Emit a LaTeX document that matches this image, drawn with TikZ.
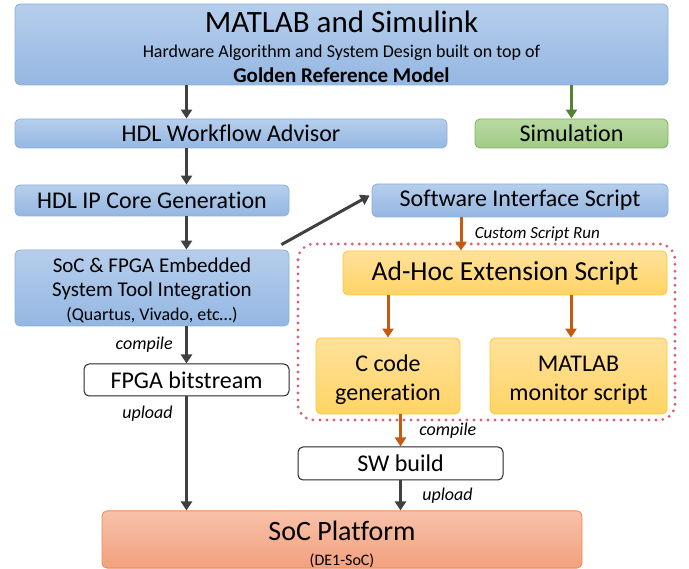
\documentclass[tikz,border=0pt]{standalone}
\usepackage{fontspec}
\setmainfont{Carlito}[Ligatures=NoCommon]
\usetikzlibrary{arrows.meta}
\definecolor{bluetop}{HTML}{B6CEEC}
\definecolor{bluebot}{HTML}{94B7E2}
\definecolor{blueline}{HTML}{8EAFDB}
\definecolor{greentop}{HTML}{B9DAA3}
\definecolor{greenbot}{HTML}{A0CB84}
\definecolor{greenline}{HTML}{7DB35A}
\definecolor{yeltop}{HTML}{FFE19A}
\definecolor{yelbot}{HTML}{FFD465}
\definecolor{yelline}{HTML}{FFC532}
\definecolor{pltop}{HTML}{F7C1A9}
\definecolor{plbot}{HTML}{F3A17E}
\definecolor{plline}{HTML}{EE8A50}
\definecolor{darkarrow}{HTML}{404040}
\definecolor{greenarrow}{HTML}{548235}
\definecolor{orangearrow}{HTML}{C55A11}
\definecolor{dotred}{HTML}{E0606E}
\newcommand{\fs}[2]{\fontsize{#1}{#2}\selectfont}

\begin{document}
\begin{tikzpicture}[x=1pt, y=-1pt,
		box/.style={rounded corners=5pt, line width=0.8pt, inner sep=0pt, align=center, text=black},
		bluebox/.style={box, draw=blueline, top color=bluetop, bottom color=bluebot},
		greenbox/.style={box, draw=greenline, top color=greentop, bottom color=greenbot},
		yelbox/.style={box, draw=yelline, top color=yeltop, bottom color=yelbot},
		platbox/.style={box, draw=plline, top color=pltop, bottom color=plbot},
		plainbox/.style={box, draw=black!85, fill=white, line width=1pt},
		flow/.style={line width=3pt, -{Triangle[length=9pt,width=11pt]}},
		steplabel/.style={font=\fs{18}{20}\itshape, text=black}]
	\useasboundingbox (0,0) rectangle (689,569);

	% left column
	\node[bluebox, minimum width=653pt, minimum height=81pt, font=\fs{18}{25}] (matlab) at (341.5,44.5)
		{\rule{0pt}{26pt}{\fs{31}{31}MATLAB and Simulink}\\ Hardware Algorithm and System Design built on top of\\ {\fs{21}{21}\bfseries Golden Reference Model}};
	\node[bluebox, minimum width=432pt, minimum height=29pt, font=\fs{24}{26}] (hdlwa) at (231,133.5) {HDL Workflow Advisor};
	\node[greenbox, minimum width=193pt, minimum height=29pt, font=\fs{24}{26}] (sim) at (571.5,133.5) {Simulation};
	\node[bluebox, minimum width=274pt, minimum height=31pt, font=\fs{24}{26}] (hdlip) at (152,200.5) {HDL IP Core Generation};
	\node[bluebox, minimum width=274pt, minimum height=76pt, font=\fs{21}{24}] (soc) at (152,288)
		{\rule{0pt}{19pt}SoC \& FPGA Embedded\\ System Tool Integration\\ {\fs{18}{18}(Quartus, Vivado, etc\ldots)}};
	\node[plainbox, minimum width=205pt, minimum height=32pt, font=\fs{24}{26}] (fpga) at (186.5,380) {FPGA bitstream};

	% right column
	\node[bluebox, minimum width=296pt, minimum height=33pt, font=\fs{24}{26}] (swi) at (520,200.5) {Software Interface Script};
	\draw[dotred, line width=3.2pt, line cap=round, dash pattern=on 0pt off 7pt, rounded corners=16pt] (298,244) rectangle (675,420);
	\node[yelbox, minimum width=324pt, minimum height=44pt, font=\fs{27.5}{30}] (adhoc) at (505,273) {Ad-Hoc Extension Script};
	\node[yelbox, minimum width=144pt, minimum height=76pt, font=\fs{24}{29}] (ccode) at (388,376) {\rule{0pt}{24pt}C code\\ generation};
	\node[yelbox, minimum width=177pt, minimum height=76pt, font=\fs{24}{29}] (mon) at (578.5,376) {\rule{0pt}{24pt}MATLAB\\ monitor script};
	\node[plainbox, minimum width=205pt, minimum height=33pt, font=\fs{24}{26}] (swbuild) at (400.5,463.5) {SW build};
	\node[platbox, minimum width=480pt, minimum height=55pt, font=\fs{16}{25}] (platform) at (342,539.5)
		{\rule{0pt}{30pt}{\fs{28}{28}SoC Platform}\\ (DE1-SoC)};

	\path[flow, darkarrow]
		(matlab.south -| fpga) edge (hdlwa.north -| fpga)
		(hdlwa.south -| fpga) edge (hdlip.north -| fpga)
		(hdlip.south -| fpga) edge (soc.north -| fpga)
		(soc.south -| fpga) edge node[steplabel, left=9pt] {compile} (fpga.north)
		(fpga.south) edge node[steplabel, pos=0.15, left=9pt] {upload} (platform.north -| fpga)
		([xshift=-8pt,yshift=5pt]soc.north east) edge ([xshift=-2pt,yshift=5pt]swi.west)
		(swbuild.south) edge node[steplabel, right=17pt] {upload} (platform.north -| swbuild);
	\path[flow, greenarrow]
		(matlab.south -| sim) edge (sim.north);
	\path[flow, orangearrow]
		([xshift=-59pt]swi.south) edge node[steplabel, font=\fs{17}{19}\itshape, right=9pt] {Custom Script Run} ([xshift=-44pt]adhoc.north)
		(adhoc.south -| ccode) edge (ccode.north)
		([xshift=66pt]adhoc.south) edge ([xshift=-7.5pt]mon.north)
		(ccode.south -| swbuild) edge node[steplabel, right=14pt] {compile} (swbuild.north);
\end{tikzpicture}
\end{document}
